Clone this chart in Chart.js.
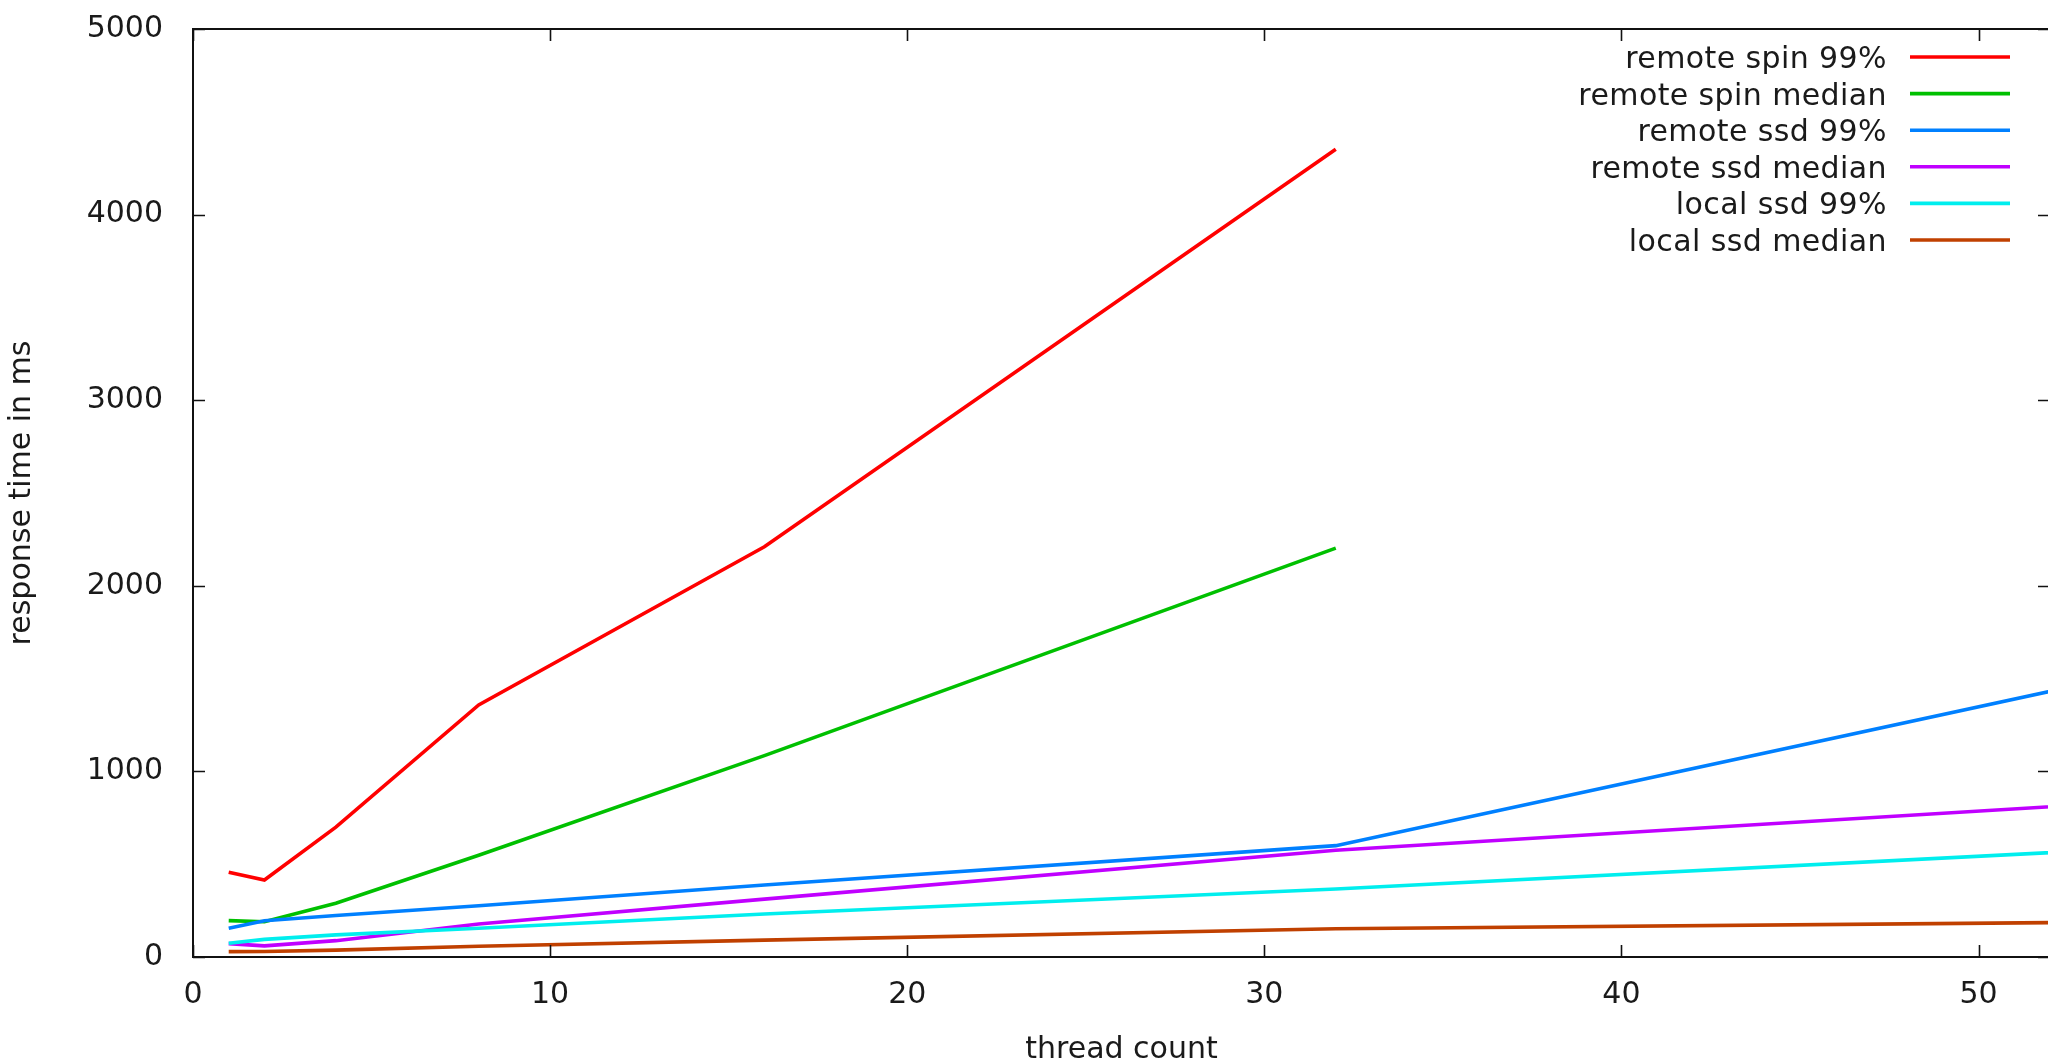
<!DOCTYPE html>
<html><head><meta charset="utf-8">
<script src="https://cdn.jsdelivr.net/npm/chart.js@4.4.1/dist/chart.umd.min.js"></script>
<style>
html,body{margin:0;padding:0;background:#fff;overflow:hidden;width:2048px;height:1063px}
canvas{display:block}
</style>
</head><body>
<canvas id="c" width="2062" height="1063"></canvas>
<script>
// ---- data ----
const seriesNames = ["remote spin 99%", "remote spin median", "remote ssd 99%", "remote ssd median", "local ssd 99%", "local ssd median"];
const spinThreads = [1, 2, 4, 8, 16, 32];
const ssdThreads = [1, 2, 4, 8, 16, 32, 64];
const remoteSpin99 = [457, 415, 700, 1358, 2210, 4352];
const remoteSpinMedian = [196, 190, 290, 548, 1085, 2203];
const remoteSsd99 = [155, 195, 224, 276, 388, 600, 1930];
const remoteSsdMedian = [72, 60, 88, 178, 312, 575, 950];
const localSsd99 = [74, 95, 119, 155, 232, 366, 680];
const localSsdMedian = [29, 30, 37, 58, 91, 152, 205];
const xTicks = [0, 10, 20, 30, 40, 50];
const yTicks = [0, 1000, 2000, 3000, 4000, 5000];
const xTitle = "thread count";
const yTitle = "response time in ms";

// ---- styles ----
const colors = ["#ff0000", "#00c000", "#0080ff", "#c000ff", "#00eeee", "#c04000"];
const seriesX = [spinThreads, spinThreads, ssdThreads, ssdThreads, ssdThreads, ssdThreads];
const seriesY = [remoteSpin99, remoteSpinMedian, remoteSsd99, remoteSsdMedian, localSsd99, localSsdMedian];

const n = seriesNames.length;
const datasets = seriesNames.map((name, i) => ({
  label: name,
  data: seriesX[i].map((x, j) => ({x: x, y: seriesY[i][j]})),
  borderColor: colors[i],
  backgroundColor: colors[i],
  borderWidth: 3.6,
  pointRadius: 0,
  tension: 0,
  fill: false,
  order: n - 1 - i
}));

Chart.defaults.font.family = "'DejaVu Sans', sans-serif";
Chart.defaults.font.size = 30;
Chart.defaults.color = "#1a1a1a";

const framePlugin = {
  id: 'gnuframe',
  afterDatasetsDraw(chart) {
    const {ctx, chartArea: a, scales} = chart;
    const tl = 12;
    ctx.save();
    ctx.strokeStyle = '#111';
    ctx.lineWidth = 2;
    ctx.strokeRect(a.left, a.top, a.right - a.left, a.bottom - a.top);
    ctx.beginPath();
    scales.x.ticks.forEach(t => {
      const px = Math.round(scales.x.getPixelForValue(t.value)) + 0.5;
      ctx.moveTo(px, a.bottom); ctx.lineTo(px, a.bottom - tl);
      ctx.moveTo(px, a.top); ctx.lineTo(px, a.top + tl);
    });
    scales.y.ticks.forEach(t => {
      const py = Math.round(scales.y.getPixelForValue(t.value)) + 0.5;
      ctx.moveTo(a.left, py); ctx.lineTo(a.left + tl, py);
      ctx.moveTo(a.right, py); ctx.lineTo(a.right - tl, py);
    });
    ctx.lineWidth = 1.6;
    ctx.stroke();
    ctx.restore();
  }
};

const keyPlugin = {
  id: 'gnukey',
  afterDraw(chart, args, opts) {
    const {ctx, chartArea: a} = chart;
    ctx.save();
    ctx.font = "30px 'DejaVu Sans', sans-serif";
    if ('letterSpacing' in ctx) ctx.letterSpacing = '0.4px';
    ctx.fillStyle = '#1a1a1a';
    ctx.textAlign = 'right';
    ctx.textBaseline = 'alphabetic';
    chart.data.datasets.forEach((ds, i) => {
      const y = a.top + opts.firstRow + i * opts.rowGap;
      ctx.fillText(ds.label, a.right - opts.textRight, y + 11);
      ctx.beginPath();
      ctx.strokeStyle = ds.borderColor;
      ctx.lineWidth = 3.6;
      ctx.moveTo(a.right - opts.sampleStart, y);
      ctx.lineTo(a.right - opts.sampleEnd, y);
      ctx.stroke();
    });
    ctx.restore();
  }
};

new Chart(document.getElementById('c'), {
  type: 'line',
  data: {datasets},
  options: {
    responsive: false,
    animation: false,
    devicePixelRatio: 1,
    events: [],
    layout: {padding: {left: 0, top: 29, right: 12, bottom: 0}},
    plugins: {
      legend: {display: false},
      tooltip: {enabled: false},
      gnukey: {firstRow: 28, rowGap: 36.6, textRight: 163, sampleStart: 140, sampleEnd: 40}
    },
    scales: {
      x: {
        type: 'linear',
        min: 0, max: 52,
        afterBuildTicks: s => { s.ticks = xTicks.map(v => ({value: v})); },
        afterFit: s => { s.height = 106; s.paddingLeft = 0; s.paddingRight = 0; },
        grid: {display: false, drawTicks: false},
        border: {display: false},
        ticks: {padding: 20, maxRotation: 0, callback: v => String(v)},
        title: {display: true, text: xTitle, padding: {top: 0, bottom: -5}}
      },
      y: {
        type: 'linear',
        min: 0, max: 5000,
        afterBuildTicks: s => { s.ticks = yTicks.map(v => ({value: v})); },
        afterFit: s => { s.width = 193; s.paddingTop = 0; s.paddingBottom = 0; },
        grid: {display: false, drawTicks: false},
        border: {display: false},
        ticks: {padding: 30, callback: v => String(v)},
        title: {display: true, text: yTitle, padding: {top: 4, bottom: 0}}
      }
    }
  },
  plugins: [framePlugin, keyPlugin]
});
</script>
</body></html>
